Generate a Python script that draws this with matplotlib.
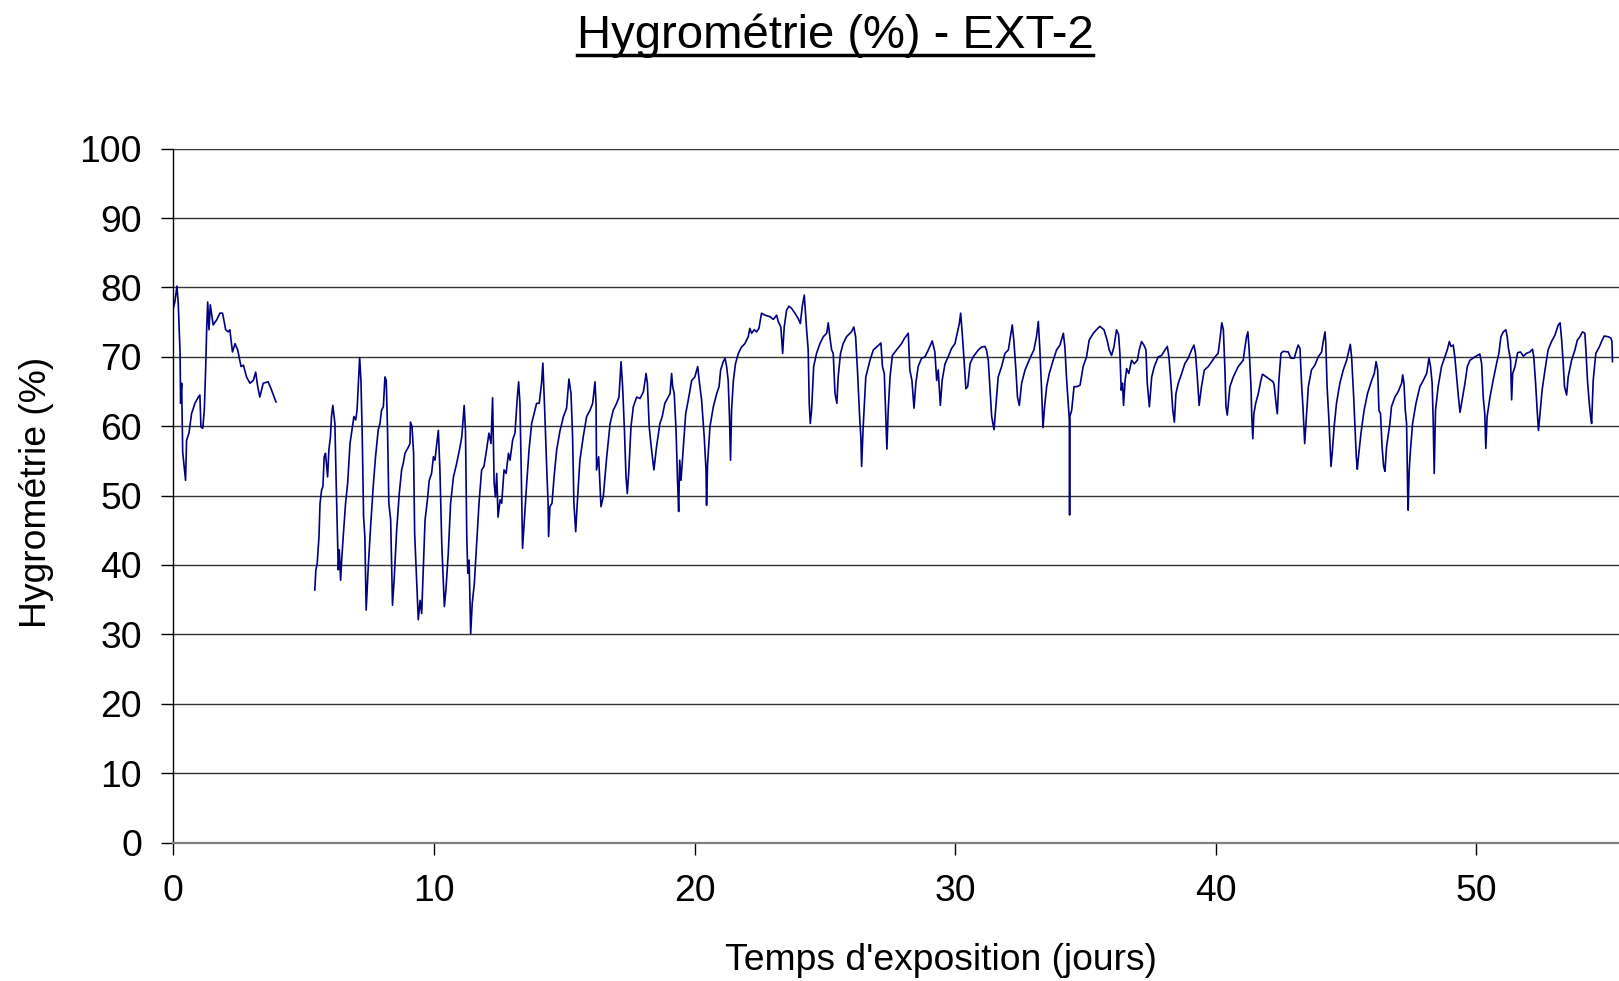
import matplotlib
matplotlib.use("Agg")
import matplotlib.pyplot as plt
from matplotlib.lines import Line2D

plt.rcParams['font.family'] = ['Liberation Sans', 'DejaVu Sans']

# first recording period (days, humidity %)
day_a = [0.00, 0.06, 0.14, 0.19, 0.26, 0.28, 0.32, 0.36, 0.47, 0.51, 0.60, 0.70,
         0.83, 0.96, 1.02, 1.06, 1.13, 1.19, 1.24, 1.28, 1.32, 1.37, 1.42, 1.53,
         1.66, 1.79, 1.89, 2.01, 2.11, 2.17, 2.27, 2.37, 2.47, 2.60, 2.69, 2.81,
         2.94, 3.07, 3.16, 3.24, 3.32, 3.45, 3.64, 3.75, 3.84, 3.94]
hum_a = [77.0, 77.9, 80.2, 77.7, 70.5, 63.3, 66.2, 56.3, 52.2, 58.0, 59.0, 61.8,
         63.3, 64.2, 64.5, 59.9, 59.7, 62.3, 68.1, 73.9, 77.9, 73.9, 77.5, 74.6,
         75.3, 76.3, 76.3, 73.9, 73.6, 73.9, 70.7, 71.9, 71.0, 68.6, 68.8, 67.1,
         66.2, 66.6, 67.8, 65.7, 64.2, 66.2, 66.4, 65.4, 64.5, 63.5]

# second recording period
day_b = [5.43, 5.47, 5.52, 5.59, 5.63, 5.69, 5.74, 5.79, 5.84, 5.92, 5.97, 6.03,
         6.07, 6.12, 6.20, 6.25, 6.30, 6.33, 6.37, 6.42, 6.46, 6.52, 6.61, 6.69,
         6.78, 6.87, 6.93, 7.00, 7.05, 7.10, 7.15, 7.20, 7.25, 7.30, 7.35, 7.40,
         7.48, 7.57, 7.67, 7.76, 7.86, 7.93, 7.99, 8.06, 8.12, 8.17, 8.22, 8.27,
         8.34, 8.41, 8.48, 8.57, 8.67, 8.76, 8.82, 8.89, 9.02, 9.08, 9.10, 9.16,
         9.22, 9.26, 9.34, 9.40, 9.47, 9.53, 9.59, 9.66, 9.75, 9.82, 9.91, 9.98,
         10.04, 10.11, 10.17, 10.23, 10.30, 10.40, 10.46, 10.55, 10.64, 10.75, 10.87, 10.98,
         11.07, 11.16, 11.21, 11.26, 11.30, 11.35, 11.41, 11.47, 11.55, 11.64, 11.73, 11.83,
         11.92, 12.02, 12.11, 12.19, 12.25, 12.31, 12.36, 12.41, 12.46, 12.54, 12.60, 12.69,
         12.77, 12.86, 12.92, 13.02, 13.11, 13.20, 13.25, 13.30, 13.35, 13.40, 13.47, 13.56,
         13.65, 13.75, 13.84, 13.94, 14.04, 14.13, 14.18, 14.25, 14.33, 14.38, 14.40, 14.45,
         14.53, 14.61, 14.71, 14.84, 14.97, 15.09, 15.18, 15.26, 15.32, 15.37, 15.44, 15.50,
         15.60, 15.73, 15.86, 15.99, 16.09, 16.18, 16.22, 16.24, 16.32, 16.41, 16.50, 16.63,
         16.76, 16.88, 17.01, 17.10, 17.18, 17.24, 17.31, 17.37, 17.42, 17.48, 17.56, 17.65,
         17.78, 17.91, 18.04, 18.14, 18.19, 18.26, 18.35, 18.44, 18.54, 18.67, 18.76, 18.86,
         18.99, 19.06, 19.12, 19.16, 19.22, 19.29, 19.35, 19.39, 19.43, 19.48, 19.57, 19.66,
         19.76, 19.89, 20.01, 20.12, 20.19, 20.27, 20.37, 20.44, 20.46, 20.50, 20.59, 20.72,
         20.85, 20.94, 21.00, 21.10, 21.17, 21.23, 21.29, 21.34, 21.38, 21.42, 21.49, 21.57,
         21.68, 21.80, 21.93, 22.06, 22.12, 22.19, 22.29, 22.38, 22.47, 22.57, 22.70, 22.89,
         23.02, 23.15, 23.21, 23.31, 23.38, 23.44, 23.53, 23.62, 23.72, 23.85, 23.98, 24.06,
         24.13, 24.21, 24.25, 24.30, 24.36, 24.40, 24.44, 24.49, 24.57, 24.68, 24.81, 24.94,
         25.07, 25.13, 25.19, 25.26, 25.32, 25.39, 25.46, 25.51, 25.60, 25.70, 25.83, 26.02,
         26.11, 26.18, 26.25, 26.34, 26.38, 26.41, 26.47, 26.57, 26.73, 26.86, 26.98, 27.07,
         27.15, 27.21, 27.28, 27.33, 27.38, 27.43, 27.50, 27.59, 27.75, 27.94, 28.06, 28.20,
         28.26, 28.34, 28.42, 28.49, 28.58, 28.71, 28.84, 28.97, 29.12, 29.22, 29.29, 29.35,
         29.43, 29.50, 29.61, 29.73, 29.86, 29.99, 30.08, 30.16, 30.21, 30.27, 30.35, 30.41,
         30.48, 30.57, 30.69, 30.89, 31.01, 31.14, 31.20, 31.27, 31.33, 31.40, 31.49, 31.55,
         31.65, 31.78, 31.91, 32.04, 32.10, 32.19, 32.25, 32.33, 32.39, 32.46, 32.55, 32.68,
         32.87, 33.02, 33.12, 33.19, 33.25, 33.31, 33.37, 33.43, 33.51, 33.61, 33.76, 33.89,
         34.02, 34.15, 34.21, 34.27, 34.34, 34.38, 34.39, 34.40, 34.47, 34.56, 34.66, 34.79,
         34.91, 35.04, 35.14, 35.30, 35.42, 35.55, 35.71, 35.83, 35.91, 36.00, 36.09, 36.19,
         36.27, 36.32, 36.37, 36.42, 36.46, 36.52, 36.58, 36.66, 36.77, 36.87, 36.99, 37.06,
         37.15, 37.24, 37.32, 37.37, 37.45, 37.54, 37.64, 37.79, 37.92, 38.05, 38.14, 38.20,
         38.28, 38.35, 38.41, 38.47, 38.56, 38.69, 38.81, 38.94, 39.07, 39.16, 39.22, 39.29,
         39.36, 39.45, 39.56, 39.71, 39.84, 39.97, 40.09, 40.17, 40.23, 40.29, 40.35, 40.39,
         40.44, 40.54, 40.67, 40.86, 41.05, 41.12, 41.18, 41.23, 41.28, 41.35, 41.38, 41.42,
         41.46, 41.53, 41.63, 41.73, 41.79, 42.20, 42.24, 42.31, 42.36, 42.42, 42.50, 42.59,
         42.78, 42.88, 43.01, 43.10, 43.16, 43.23, 43.29, 43.35, 43.41, 43.46, 43.55, 43.67,
         43.80, 43.93, 44.06, 44.12, 44.19, 44.22, 44.27, 44.34, 44.39, 44.42, 44.47, 44.54,
         44.63, 44.76, 44.89, 45.02, 45.11, 45.16, 45.21, 45.29, 45.34, 45.39, 45.43, 45.46,
         45.57, 45.69, 45.82, 45.98, 46.08, 46.15, 46.21, 46.26, 46.32, 46.38, 46.44, 46.49,
         46.55, 46.68, 46.74, 46.87, 47.00, 47.13, 47.17, 47.22, 47.27, 47.32, 47.36, 47.38,
         47.42, 47.47, 47.55, 47.68, 47.83, 47.96, 48.09, 48.18, 48.24, 48.30, 48.34, 48.38,
         48.43, 48.53, 48.66, 48.79, 48.88, 48.96, 49.02, 49.11, 49.17, 49.24, 49.31, 49.37,
         49.47, 49.56, 49.65, 49.75, 49.90, 50.03, 50.13, 50.20, 50.26, 50.32, 50.36, 50.41,
         50.52, 50.64, 50.77, 50.86, 50.94, 51.03, 51.13, 51.18, 51.23, 51.31, 51.35, 51.39,
         51.48, 51.58, 51.69, 51.80, 51.92, 52.05, 52.15, 52.20, 52.27, 52.33, 52.38, 52.43,
         52.52, 52.63, 52.75, 52.88, 53.01, 53.14, 53.21, 53.27, 53.33, 53.38, 53.46, 53.52,
         53.65, 53.78, 53.87, 53.97, 54.07, 54.16, 54.20, 54.26, 54.33, 54.38, 54.42, 54.48,
         54.58, 54.71, 54.80, 54.90, 55.06, 55.16, 55.20, 55.22]
hum_b = [36.4, 39.3, 40.2, 44.1, 48.9, 50.8, 51.3, 55.6, 56.1, 52.7, 56.6, 58.5,
         61.4, 63.0, 60.4, 51.8, 44.1, 39.3, 42.2, 37.8, 40.7, 44.1, 48.9, 51.8,
         57.5, 59.9, 61.4, 60.9, 62.3, 66.2, 69.9, 66.6, 58.5, 47.0, 44.1, 33.5,
         39.7, 45.5, 51.3, 55.6, 59.4, 60.4, 62.3, 62.8, 67.1, 66.6, 59.4, 48.9,
         46.5, 34.2, 38.3, 45.0, 50.3, 53.7, 54.6, 56.1, 57.0, 57.5, 60.6, 59.9,
         56.1, 44.6, 37.3, 32.1, 34.9, 33.0, 39.3, 46.5, 49.4, 52.2, 53.2, 55.6,
         55.1, 57.5, 59.4, 53.7, 43.1, 34.0, 36.4, 41.7, 48.9, 52.7, 54.6, 56.6,
         58.5, 63.0, 59.4, 44.1, 38.8, 40.7, 30.1, 34.5, 37.3, 43.1, 48.9, 53.7,
         54.2, 56.6, 59.0, 57.5, 64.1, 51.8, 49.8, 53.2, 46.9, 49.4, 48.9, 53.7,
         53.2, 56.1, 55.1, 58.0, 59.0, 64.2, 66.4, 63.3, 53.7, 42.4, 46.5, 51.8,
         56.6, 60.4, 61.8, 63.3, 63.3, 66.2, 69.1, 62.3, 53.7, 48.9, 44.1, 48.4,
         48.9, 52.7, 56.6, 59.4, 61.4, 62.6, 66.8, 64.7, 58.5, 48.9, 44.8, 48.9,
         55.1, 58.5, 61.4, 62.3, 63.3, 66.4, 63.3, 53.7, 55.6, 48.4, 49.9, 55.6,
         60.4, 62.3, 63.3, 64.2, 69.3, 65.7, 59.4, 52.7, 50.3, 53.7, 59.9, 62.8,
         64.2, 64.0, 65.0, 67.6, 66.2, 59.9, 56.6, 53.7, 57.0, 60.4, 61.4, 63.3,
         64.2, 64.7, 67.6, 65.7, 64.7, 59.4, 51.8, 47.7, 55.1, 52.2, 57.0, 61.8,
         63.8, 66.6, 67.1, 68.6, 66.2, 63.8, 58.5, 53.7, 48.6, 54.6, 59.9, 62.8,
         64.7, 65.7, 68.1, 69.3, 69.8, 68.6, 66.6, 61.4, 55.1, 62.3, 66.6, 69.0,
         70.5, 71.4, 71.9, 72.9, 74.1, 73.4, 73.9, 73.6, 74.1, 76.3, 76.0, 75.8,
         75.4, 76.0, 75.1, 74.3, 70.5, 74.3, 76.7, 77.3, 77.0, 76.3, 75.5, 74.8,
         77.2, 78.9, 76.7, 73.9, 71.0, 63.3, 60.4, 62.3, 68.6, 70.5, 71.9, 72.9,
         73.4, 74.9, 72.9, 71.0, 70.5, 64.7, 63.3, 67.1, 70.5, 71.9, 72.9, 73.6,
         74.3, 72.9, 68.1, 60.9, 58.5, 54.2, 59.9, 67.1, 69.5, 71.0, 71.4, 71.7,
         72.0, 68.6, 67.6, 62.3, 56.7, 62.3, 67.1, 70.2, 71.0, 71.9, 72.7, 73.4,
         68.1, 66.6, 62.6, 66.2, 68.6, 69.8, 70.0, 71.0, 72.3, 70.7, 66.6, 68.1,
         63.0, 66.6, 69.0, 70.0, 71.2, 71.9, 73.4, 74.8, 76.3, 73.4, 69.0, 65.4,
         65.7, 69.0, 70.0, 71.0, 71.4, 71.5, 71.0, 69.5, 65.7, 61.4, 59.5, 62.3,
         67.1, 68.6, 70.5, 71.0, 72.4, 74.6, 72.4, 68.1, 64.2, 63.0, 66.2, 68.1,
         69.8, 71.0, 72.9, 75.1, 71.0, 65.7, 59.8, 62.8, 65.7, 67.6, 69.5, 71.0,
         71.7, 73.4, 71.4, 67.1, 63.3, 60.9, 47.2, 61.4, 62.3, 65.7, 65.7, 65.9,
         68.6, 70.0, 72.4, 73.4, 73.9, 74.4, 73.9, 72.4, 71.0, 70.2, 71.4, 73.9,
         73.2, 70.5, 65.2, 66.2, 63.0, 66.6, 68.3, 67.6, 69.5, 69.0, 69.5, 71.0,
         72.2, 71.7, 71.0, 66.2, 62.8, 67.1, 68.6, 70.0, 70.2, 71.0, 71.5, 70.0,
         66.2, 62.3, 60.6, 64.7, 66.2, 67.6, 69.0, 69.8, 71.0, 71.7, 70.5, 67.1,
         63.0, 65.7, 68.1, 68.6, 69.3, 70.0, 70.5, 72.9, 74.9, 73.9, 68.1, 62.8,
         61.6, 65.7, 67.1, 68.6, 69.5, 71.4, 72.9, 73.6, 71.0, 65.7, 61.4, 58.2,
         61.8, 63.3, 64.7, 66.6, 67.5, 66.4, 65.9, 63.3, 61.8, 66.6, 70.5, 70.8,
         70.7, 69.8, 69.8, 71.0, 71.7, 71.2, 66.2, 62.3, 57.5, 60.4, 65.7, 68.1,
         68.8, 70.0, 70.7, 72.2, 73.6, 71.9, 65.7, 60.9, 56.6, 54.2, 56.3, 59.9,
         63.3, 66.2, 68.1, 69.5, 71.0, 71.8, 70.0, 64.2, 59.9, 55.6, 53.8, 55.1,
         59.0, 62.3, 64.7, 66.6, 67.6, 69.3, 68.1, 62.3, 61.8, 57.0, 54.2, 53.5,
         57.0, 60.4, 62.8, 64.2, 65.0, 66.2, 67.4, 66.2, 62.3, 60.4, 50.8, 47.9,
         53.7, 56.6, 60.4, 63.3, 65.7, 66.6, 67.6, 69.8, 68.6, 66.2, 60.9, 53.2,
         62.3, 65.7, 68.6, 70.0, 71.0, 72.2, 71.5, 71.7, 70.0, 67.1, 64.2, 62.0,
         64.2, 66.2, 68.6, 69.5, 69.9, 70.2, 70.4, 69.0, 64.2, 61.8, 56.8, 61.4,
         64.2, 66.6, 69.0, 70.5, 72.9, 73.6, 73.9, 72.9, 71.2, 69.5, 63.8, 67.6,
         68.6, 70.6, 70.7, 70.1, 70.5, 70.7, 71.1, 70.0, 66.2, 62.3, 59.4, 61.4,
         65.2, 68.1, 71.0, 72.2, 73.1, 74.6, 74.9, 72.4, 69.0, 65.7, 64.5, 67.1,
         69.5, 71.0, 72.4, 72.9, 73.6, 73.4, 71.0, 66.6, 63.3, 61.4, 60.4, 66.6,
         70.5, 71.4, 72.2, 73.0, 72.9, 72.7, 72.2, 69.3]

x_ticks = [0, 10, 20, 30, 40, 50]
y_ticks = [0, 10, 20, 30, 40, 50, 60, 70, 80, 90, 100]

W, H = 1619, 981
fig = plt.figure(figsize=(W / 100, H / 100), dpi=100)
ax = fig.add_axes([173.3 / W, 1 - 842.5 / H, (W - 173.3) / W, (842.5 - 148.7) / H])

line_color = '#000080'
ax.plot(day_a, hum_a, color=line_color, lw=1.2)
ax.plot(day_b, hum_b, color=line_color, lw=1.2)

ax.set_xlim(0, 55.47)
ax.set_ylim(0, 100)
ax.set_xticks(x_ticks)
ax.set_yticks(y_ticks)
ax.tick_params(axis='both', direction='out', length=8.6, width=1, labelsize=26.8,
               pad=14, color='black')
ax.yaxis.grid(True, color='#333333', lw=1)
ax.set_axisbelow(True)

for side in ['top', 'right']:
    ax.spines[side].set_visible(False)
ax.spines['left'].set_color('black')
ax.spines['left'].set_linewidth(1)
ax.spines['bottom'].set_color('#808080')
ax.spines['bottom'].set_linewidth(1.6)

fig.text(36 / W, 1 - 492 / H, 'Hygrométrie (%)', rotation=90, fontsize=26.8,
         ha='center', va='center')
fig.text(941 / W, 1 - 961 / H, "Temps d'exposition (jours)", fontsize=26.8,
         ha='center', va='center')

title = fig.text(835 / W, 1 - 48 / H, 'Hygrométrie (%) - EXT-2', fontsize=34,
                 ha='center', va='baseline')

# underline the title
fig.canvas.draw()
bb = title.get_window_extent(renderer=fig.canvas.get_renderer())
uy = 1 - 55 / H
fig.add_artist(Line2D([bb.x0 / W, bb.x1 / W], [uy, uy], transform=fig.transFigure,
                      color='black', lw=2.5))

fig.savefig('out.png', dpi=100)
